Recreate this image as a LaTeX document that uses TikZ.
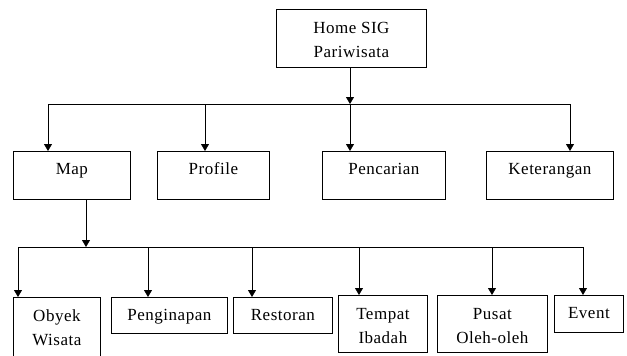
\documentclass[tikz,border=0pt]{standalone}
\usepackage{fontspec}
\setmainfont{Liberation Serif}[LetterSpace=3]
\usetikzlibrary{arrows.meta}
\begin{document}
\begin{tikzpicture}[x=1pt,y=-1pt]
		\tikzstyle{box}=[draw=black,line width=0.8pt,anchor=north west,inner sep=0pt,align=center,font=\fontsize{17}{24}\selectfont]
		\tikzstyle{edge}=[draw=black,line width=0.8pt]
		\tikzstyle{arrow}=[edge,-{Triangle[length=7pt,width=8pt]}]
		\useasboundingbox (0,0) rectangle (627,356);

		 \node [box,minimum width=150pt,text height=48pt,text depth=10pt] (home) at (276,9) {Home SIG\\Pariwisata};

		 \node [box,minimum width=117pt,text height=23pt,text depth=25pt] (map) at (13,151) {Map};
		 \node [box,minimum width=112pt,text height=23pt,text depth=25pt] (profile) at (157,151) {Profile};
		 \node [box,minimum width=123pt,text height=23pt,text depth=25pt] (cari) at (322,151) {Pencarian};
		 \node [box,minimum width=127pt,text height=23pt,text depth=25pt] (ket) at (486,151) {Keterangan};

		 \node [box,minimum width=87pt,text height=48pt,text depth=21pt] (obyek) at (13,297) {Obyek\\Wisata};
		 \node [box,minimum width=116pt,text height=23pt,text depth=13pt] (inap) at (111,297) {Penginapan};
		 \node [box,minimum width=99pt,text height=23pt,text depth=13pt] (resto) at (233,297) {Restoran};
		 \node [box,minimum width=89pt,text height=48pt,text depth=9pt] (ibadah) at (338,295) {Tempat\\Ibadah};
		 \node [box,minimum width=110pt,text height=48pt,text depth=9pt] (oleh) at (437,295) {Pusat\\Oleh-oleh};
		 \node [box,minimum width=69pt,text height=23pt,text depth=14pt] (event) at (554,295) {Event};

		 \coordinate (j1) at (350,104);
		 \coordinate (j-map) at (48,104);
		 \coordinate (j-profile) at (205,104);
		 \coordinate (j-ket) at (570,104);
		 \coordinate (j2) at (86,247);
		 \coordinate (j-obyek) at (18,247);
		 \coordinate (j-inap) at (148,247);
		 \coordinate (j-resto) at (252,247);
		 \coordinate (j-ibadah) at (359,247);
		 \coordinate (j-oleh) at (492,247);
		 \coordinate (j-event) at (583,247);

		 \path[arrow] (j1 |- home.south) -- (j1);
		 \path[edge] (j-map) -- (j-ket);
		 \path[arrow] (j-map) -- (j-map |- map.north);
		 \path[arrow] (j-profile) -- (j-profile |- profile.north);
		 \path[arrow] (j1) -- (j1 |- cari.north);
		 \path[arrow] (j-ket) -- (j-ket |- ket.north);

		 \path[arrow] (j2 |- map.south) -- (j2);
		 \path[edge] (j-obyek) -- (j-event);
		 \path[arrow] (j-obyek) -- (j-obyek |- obyek.north);
		 \path[arrow] (j-inap) -- (j-inap |- inap.north);
		 \path[arrow] (j-resto) -- (j-resto |- resto.north);
		 \path[arrow] (j-ibadah) -- (j-ibadah |- ibadah.north);
		 \path[arrow] (j-oleh) -- (j-oleh |- oleh.north);
		 \path[arrow] (j-event) -- (j-event |- event.north);

	\end{tikzpicture}
\end{document}
